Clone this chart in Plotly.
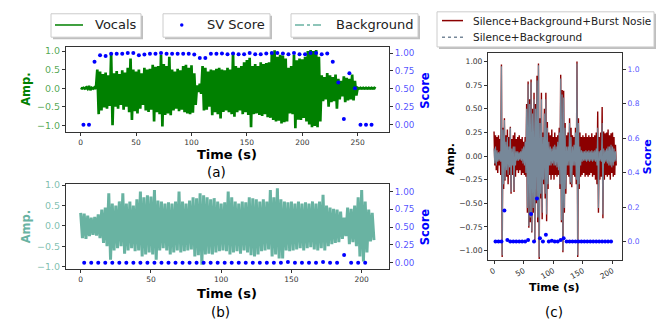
import plotly.graph_objects as go

W, H = 670, 323
FONT = "DejaVu Sans"

def fx(p):
    return p / W

def fy(p):
    return 1 - p / H

# ---------------- data ----------------
STEP = 2.5  # seconds per envelope bin

# (a) vocals envelope (upper / lower peak per 2.5 s bin, t = 0 ... 265)
vocals_hi = [0.01, 0.01, 0.02, 0.06, 0.01, 0.02, 0.5, 0.45, 0.38, 0.42,
             0.35, 0.92, 0.4, 0.46, 0.38, 0.48, 0.42, 0.55, 0.8, 0.5,
             0.45, 0.5, 0.4, 0.55, 0.5, 0.52, 0.63, 0.58, 0.6, 0.9,
             0.65, 0.6, 0.85, 0.5, 0.45, 0.52, 0.48, 0.6, 0.63, 0.55,
             0.62, 0.4, 0.08, 0.12, 0.6, 0.55, 0.45, 0.5, 0.48, 0.52,
             0.55, 0.5, 0.48, 0.55, 0.5, 0.95, 0.6, 0.55, 0.6, 0.7,
             0.76, 0.82, 0.6, 0.65, 0.6, 0.7, 0.65, 0.68, 0.7, 0.95,
             1.02, 0.85, 0.9, 0.88, 0.8, 0.55, 0.6, 0.9, 0.75, 0.8,
             0.78, 0.85, 1.0, 1.03, 1.0, 1.03, 0.85, 0.35, 0.3, 0.41,
             0.35, 0.3, 0.37, 0.25, 0.2, 0.32, 0.28, 0.25, 0.37, 0.2,
             0.01, 0.01, 0.01, 0.01, 0.01, 0.01, 0.01]
vocals_lo = [-0.01, -0.01, -0.02, -0.05, -0.01, -0.02, -0.7, -0.6, -0.52, -0.55,
             -0.48, -1.0, -0.5, -0.55, -0.45, -0.58, -0.5, -0.65, -0.86, -0.62,
             -0.68, -0.55, -0.45, -0.6, -0.64, -0.58, -0.9, -0.65, -0.7, -1.03,
             -0.72, -0.68, -0.73, -0.6, -0.55, -0.62, -0.58, -0.65, -0.68, -0.7,
             -0.66, -0.45, -0.1, -0.15, -0.6, -0.58, -0.5, -0.73, -0.65, -0.7,
             -0.82, -0.64, -0.6, -0.65, -0.7, -0.77, -0.65, -0.6, -0.7, -0.65,
             -0.72, -1.05, -0.7, -0.68, -0.72, -0.75, -0.7, -0.78, -0.8, -0.86,
             -0.9, -0.88, -0.95, -0.92, -0.9, -0.68, -0.7, -1.08, -0.85, -0.86,
             -0.8, -0.9, -0.98, -1.05, -1.02, -1.05, -0.9, -0.35, -0.3, -0.5,
             -0.38, -0.35, -0.55, -0.3, -0.22, -0.38, -0.33, -0.3, -0.33, -0.2,
             -0.01, -0.01, -0.01, -0.01, -0.01, -0.01, -0.01]

# (b) background envelope (t = 0 ... 207.5)
bg_hi = [0.32, 0.3, 0.25, 0.2, 0.22, 0.28, 0.4, 0.45, 0.8, 0.55,
         0.5, 0.6, 0.8, 0.55, 0.6, 0.5, 0.65, 0.84, 0.7, 0.75,
         0.72, 0.88, 0.62, 0.6, 0.55, 0.58, 0.55, 0.6, 0.84, 0.6,
         0.55, 0.62, 0.7, 0.68, 0.8, 0.75, 0.7, 0.65, 0.68, 0.6,
         0.55, 0.58, 0.84, 0.7, 0.6, 0.55, 0.6, 0.58, 0.7, 0.68,
         0.65, 0.6, 0.65, 0.6, 0.88, 0.7, 0.92, 0.65, 0.6, 0.58,
         0.6, 0.55, 0.6, 0.55, 0.58, 0.55, 0.6, 0.55, 0.6, 0.76,
         0.5, 0.45, 0.42, 0.4, 0.35, 0.2, 0.45, 0.42, 0.5, 0.7,
         0.88, 0.6, 0.4, 0.32]
bg_lo = [-0.3, -0.32, -0.25, -0.22, -0.24, -0.3, -0.42, -0.5, -0.83, -0.6,
         -0.55, -0.5, -0.68, -0.6, -0.55, -0.62, -0.6, -0.75, -0.7, -0.65,
         -0.7, -0.83, -0.6, -0.55, -0.6, -0.7, -0.65, -0.6, -0.65, -0.62,
         -0.6, -0.58, -0.75, -0.72, -0.95, -0.7, -0.68, -0.7, -0.65, -0.62,
         -0.6, -0.62, -0.7, -0.65, -0.62, -0.68, -0.6, -0.65, -0.72, -0.75,
         -0.7, -0.62, -0.6, -0.58, -0.75, -0.7, -0.8, -0.8, -0.6, -0.62,
         -0.6, -0.58, -0.55, -0.6, -0.55, -0.52, -0.58, -0.6, -0.55, -0.6,
         -0.5, -0.45, -0.42, -0.4, -0.32, -0.25, -0.45, -0.4, -0.5, -0.75,
         -0.87, -0.65, -0.38, -0.35]

# (c) silence+background+burst noise and silence+background (t = 0 ... 205)
burst_hi = [0.26, 0.22, 0.2, 0.22, 0.18, 0.97, 0.3, 0.4, 0.22, 0.28,
            0.2, 0.31, 0.18, 0.22, 0.25, 0.18, 0.2, 0.22, 0.18, 0.2,
            0.15, 0.2, 0.55, 0.79, 0.6, 0.81, 0.5, 0.67, 0.55, 0.85,
            0.98, 0.4, 0.67, 0.25, 0.5, 0.67, 0.36, 0.25, 0.22, 0.28,
            0.2, 0.25, 0.2, 0.22, 0.3, 0.86, 0.7, 0.69, 0.35, 0.22,
            0.25, 0.4, 0.3, 0.22, 0.2, 0.3, 1.0, 0.4, 0.25, 0.2,
            0.22, 0.2, 0.24, 0.2, 0.22, 0.2, 0.24, 0.2, 0.22, 0.25,
            0.47, 0.2, 0.25, 0.52, 0.26, 0.24, 0.25, 0.28, 0.22, 0.24,
            0.25, 0.2, 0.12]
burst_lo = [-0.1, -0.15, -0.18, -0.1, -0.2, -1.07, -0.35, -0.26, -0.22, -0.3,
            -0.2, -0.4, -0.2, -0.38, -0.22, -0.15, -0.18, -0.15, -0.2, -0.18,
            -0.2, -0.22, -0.6, -0.76, -0.7, -0.81, -0.6, -0.9, -0.5, -0.7,
            -1.09, -0.45, -0.67, -0.3, -0.45, -0.69, -0.35, -0.2, -0.25, -0.2,
            -0.25, -0.2, -0.22, -0.2, -0.35, -0.7, -1.02, -0.6, -0.4, -0.2,
            -0.22, -0.3, -0.33, -0.2, -0.22, -0.3, -1.07, -0.35, -0.22, -0.2,
            -0.18, -0.22, -0.2, -0.22, -0.2, -0.18, -0.22, -0.2, -0.25, -0.3,
            -0.6, -0.25, -0.22, -0.66, -0.25, -0.2, -0.22, -0.2, -0.25, -0.18,
            -0.22, -0.2, -0.1]
sb_hi = [0.08, 0.1, 0.06, 0.04, 0.05, 0.95, 0.28, 0.38, 0.15, 0.2,
         0.1, 0.3, 0.08, 0.1, 0.1, 0.05, 0.05, 0.04, 0.05, 0.08,
         0.1, 0.15, 0.5, 0.76, 0.55, 0.78, 0.45, 0.6, 0.5, 0.8,
         0.96, 0.35, 0.6, 0.2, 0.45, 0.6, 0.3, 0.15, 0.1, 0.08,
         0.1, 0.12, 0.1, 0.15, 0.25, 0.82, 0.65, 0.62, 0.3, 0.1,
         0.1, 0.35, 0.2, 0.1, 0.12, 0.25, 0.98, 0.35, 0.1, 0.06,
         0.05, 0.05, 0.06, 0.05, 0.06, 0.05, 0.06, 0.05, 0.06, 0.08,
         0.3, 0.05, 0.06, 0.35, 0.08, 0.06, 0.08, 0.1, 0.1, 0.12,
         0.1, 0.08, 0.05]
sb_lo = [-0.08, -0.1, -0.06, -0.05, -0.06, -1.05, -0.3, -0.25, -0.15, -0.2,
         -0.12, -0.38, -0.1, -0.36, -0.1, -0.05, -0.05, -0.04, -0.05, -0.08,
         -0.1, -0.18, -0.55, -0.74, -0.65, -0.8, -0.55, -0.88, -0.45, -0.65,
         -1.07, -0.4, -0.6, -0.25, -0.4, -0.62, -0.3, -0.1, -0.1, -0.08,
         -0.1, -0.1, -0.12, -0.15, -0.3, -0.68, -1.0, -0.55, -0.35, -0.1,
         -0.1, -0.28, -0.3, -0.1, -0.1, -0.25, -1.05, -0.3, -0.1, -0.06,
         -0.05, -0.05, -0.06, -0.05, -0.06, -0.05, -0.06, -0.05, -0.06, -0.1,
         -0.55, -0.05, -0.06, -0.62, -0.08, -0.06, -0.08, -0.1, -0.1, -0.12,
         -0.1, -0.06, -0.05]

# SV scores, one every 5 s starting at 2.5 s
score_a = [0.0, 0.0, 0.88, 0.97, 0.96, 0.99, 0.99, 0.99, 1.0, 1.0,
           0.97, 0.98, 0.99, 0.99, 1.0, 0.99, 0.99, 0.99, 0.99, 0.99,
           0.98, 0.93, 0.93, 0.99, 0.99,
           0.995, 0.985, 0.995, 0.985, 0.985, 1.0, 0.985, 0.985, 0.995, 1.0,
           1.0, 0.995, 0.985, 1.0, 0.985, 0.985, 1.0, 1.0, 0.985, 0.995,
           0.88, 0.59, 0.08, 0.72, 0.51, 0.0, 0.0, 0.0]
score_b = [0.0] * 29 + [0.01] + [0.0] * 4 + [0.01] + [0.0] * 2 + [0.11] + [0.0] * 3
score_c = [0.0, 0.0, 0.0, 0.18, 0.01, 0.0, 0.0, 0.0, 0.0, 0.0,
           0.0, 0.01, 0.16, 0.0, 0.25, 0.02, 0.0, 0.04, 0.0, 0.005,
           0.0, 0.0, 0.01, 0.02, 0.0, 0.0, 0.0, 0.0, 0.0, 0.0,
           0.0, 0.0, 0.0, 0.0, 0.0, 0.0, 0.0, 0.0, 0.0, 0.0]

# ---------------- helpers ----------------
def zigzag(hi, lo, step):
    xs, ys = [], []
    for i, (h, l) in enumerate(zip(hi, lo)):
        t = i * step
        xs += [t, t + step / 2]
        ys += [h, l]
    return xs, ys

def score_times(n):
    return [2.5 + 5 * k for k in range(n)]

GREEN = "#008000"
TEAL = "#69b3a2"
BLUE = "#0000ff"
DARKRED = "#8b0000"
SLATE = "#778899"

fig = go.Figure()

def wave(hi, lo, color, xa, ya, width):
    xs, ys = zigzag(hi, lo, STEP)
    fig.add_trace(go.Scatter(x=xs, y=ys, mode="lines", line=dict(color=color, width=width),
                             xaxis=xa, yaxis=ya, showlegend=False, hoverinfo="skip"))

wave(vocals_hi, vocals_lo, GREEN, "x", "y", 2.7)
fig.add_trace(go.Scatter(x=score_times(len(score_a)), y=score_a, mode="markers",
                         marker=dict(color=BLUE, size=4), xaxis="x", yaxis="y2", showlegend=False))

wave(bg_hi, bg_lo, TEAL, "x2", "y3", 3.0)
fig.add_trace(go.Scatter(x=score_times(len(score_b)), y=score_b, mode="markers",
                         marker=dict(color=BLUE, size=4), xaxis="x2", yaxis="y4", showlegend=False))

wave(burst_hi, burst_lo, DARKRED, "x3", "y5", 1.4)
wave(sb_hi, sb_lo, SLATE, "x3", "y5", 1.1)
fig.add_trace(go.Scatter(x=score_times(len(score_c)), y=score_c, mode="markers",
                         marker=dict(color=BLUE, size=4), xaxis="x3", yaxis="y6", showlegend=False))

AX = dict(showline=True, linecolor="#333", linewidth=1, ticks="outside", ticklen=3,
          tickcolor="#333", showgrid=False, zeroline=False)

def f(size, color="#333"):
    return dict(family=FONT, size=size, color=color)

fig.update_layout(
    width=W, height=H, margin=dict(l=0, r=0, t=0, b=0),
    paper_bgcolor="white", plot_bgcolor="white", showlegend=False,
    font=dict(family=FONT),
    xaxis=dict(AX, domain=[fx(66), fx(389)], range=[-13.25, 278.25], anchor="y", mirror=True,
               tickvals=[0, 50, 100, 150, 200, 250], tickfont=f(7.5)),
    yaxis=dict(AX, domain=[fy(130), fy(43)], range=[-1.176, 1.113], anchor="x",
               tickvals=[-1, -0.5, 0, 0.5, 1], tickformat=".1f",
               tickfont=f(9.5, "rgba(0,128,0,0.7)")),
    yaxis2=dict(AX, overlaying="y", side="right", anchor="x", range=[-0.099, 1.086],
                tickvals=[0, 0.25, 0.5, 0.75, 1], tickformat=".2f",
                tickfont=f(8.8, "rgba(0,0,255,0.7)")),
    xaxis2=dict(AX, domain=[fx(66), fx(389)], range=[-10.45, 219.45], anchor="y3", mirror=True,
                tickvals=[0, 50, 100, 150, 200], tickfont=f(7.5)),
    yaxis3=dict(AX, domain=[fy(271), fy(184)], range=[-1.065, 1.017], anchor="x2",
                tickvals=[-1, -0.5, 0, 0.5, 1], tickformat=".1f",
                tickfont=f(9.5, "rgba(105,179,162,0.85)")),
    yaxis4=dict(AX, overlaying="y3", side="right", anchor="x2", range=[-0.092, 1.1],
                tickvals=[0, 0.25, 0.5, 0.75, 1], tickformat=".2f",
                tickfont=f(8.8, "rgba(0,0,255,0.7)")),
    xaxis3=dict(AX, domain=[fx(488), fx(622)], range=[-10.2, 216], anchor="y5", mirror=True,
                tickvals=[0, 50, 100, 150, 200], tickangle=-30, tickfont=f(7.5)),
    yaxis5=dict(AX, domain=[fy(261), fy(49)], range=[-1.096, 1.093], anchor="x3",
                tickvals=[-1, -0.75, -0.5, -0.25, 0, 0.25, 0.5, 0.75, 1], tickformat=".2f",
                tickfont=f(7.6)),
    yaxis6=dict(AX, overlaying="y5", side="right", anchor="x3", range=[-0.104, 1.096],
                tickvals=[0, 0.2, 0.4, 0.6, 0.8, 1.0], tickformat=".1f",
                tickfont=f(7.6, "rgba(0,0,255,0.7)")),
)

ann = []
def text(x, y, s, size, color="#000", bold=False, angle=0, xanchor="center"):
    ann.append(dict(x=fx(x), y=fy(y), xref="paper", yref="paper", text=(f"<b>{s}</b>" if bold else s),
                    showarrow=False, textangle=angle, xanchor=xanchor, yanchor="middle",
                    font=dict(family=FONT, size=size, color=color)))

# axis titles
text(26, 87, "Amp.", 11.5, GREEN, True, -90)
text(425, 88, "Score", 11.5, BLUE, True, -90)
text(227, 153, "Time (s)", 13, "#000", True)
text(216, 171, "(a)", 13.5, "#000")
text(26, 228, "Amp.", 11.5, TEAL, True, -90)
text(425, 228, "Score", 11.5, BLUE, True, -90)
text(227, 296, "Time (s)", 13, "#000", True)
text(220, 315, "(b)", 13.5, "#000")
text(450, 158, "Amp.", 11, "#000", True, -90)
text(647, 156, "Score", 11, BLUE, True, -90)
text(554, 290, "Time (s)", 11, "#000", True)
text(554, 315, "(c)", 13.5, "#000")

# legends
shapes = []
def box(x0, y0, x1, y1):
    shapes.append(dict(type="rect", xref="paper", yref="paper", x0=fx(x0 + 2), x1=fx(x1 + 2),
                       y0=fy(y1 + 2), y1=fy(y0 + 2), fillcolor="rgba(0,0,0,0.25)", line=dict(width=0),
                       layer="above"))
    shapes.append(dict(type="rect", xref="paper", yref="paper", x0=fx(x0), x1=fx(x1),
                       y0=fy(y1), y1=fy(y0), fillcolor="white", line=dict(color="#cccccc", width=1),
                       layer="above"))

def seg(x0, x1, y, color, dash="solid", width=1.5):
    shapes.append(dict(type="line", xref="paper", yref="paper", x0=fx(x0), x1=fx(x1),
                       y0=fy(y), y1=fy(y), line=dict(color=color, width=width, dash=dash),
                       layer="above"))

box(51, 9, 141, 33)
seg(55, 83, 20.5, GREEN)
text(93, 20.5, "Vocals", 13, "#222", xanchor="left")

box(163, 9, 270, 33)
shapes.append(dict(type="circle", xref="paper", yref="paper", x0=fx(180), x1=fx(183.5),
                   y0=fy(22.3), y1=fy(18.8), fillcolor=BLUE, line=dict(width=0), layer="above"))
text(205, 20.5, "SV Score", 13, "#222", xanchor="left")

box(291, 9, 418, 33)
seg(295, 321, 20.5, TEAL, "dashdot")
text(334, 20.5, "Background", 13, "#222", xanchor="left")

box(437, 7, 654, 43)
seg(442, 463, 16, DARKRED)
text(470.5, 16, "Silence+Background+Burst Nosie", 10.5, "#222", xanchor="left")
seg(442, 463, 33, SLATE, "dot")
text(470.5, 33, "Silence+Background", 10.5, "#222", xanchor="left")

fig.update_layout(annotations=ann, shapes=shapes)

fig.write_html("out.html", config={"displayModeBar": False},
               post_script="document.body.style.margin='0';document.body.style.overflow='hidden';")
